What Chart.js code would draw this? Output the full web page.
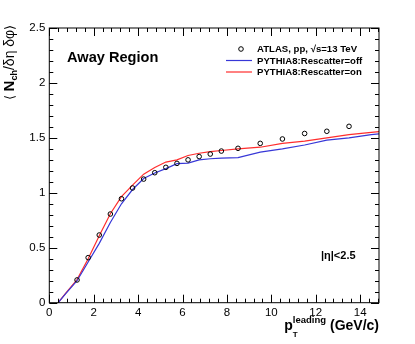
<!DOCTYPE html>
<html>
<head>
<meta charset="utf-8">
<script src="https://cdn.jsdelivr.net/npm/chart.js@4.4.0/dist/chart.umd.min.js"></script>
<style>
  html, body { margin: 0; padding: 0; background: #fff; }
  canvas { display: block; }
</style>
</head>
<body>
<canvas id="grafico" width="415" height="344"></canvas>
<script>
// dados ATLAS (marcadores abertos)
const atlasX = [1.25, 1.75, 2.25, 2.75, 3.25, 3.75, 4.25, 4.75, 5.25, 5.75, 6.25, 6.75, 7.25, 7.75, 8.5, 9.5, 10.5, 11.5, 12.5, 13.5];
const atlasY = [0.207, 0.41, 0.616, 0.807, 0.946, 1.044, 1.125, 1.183, 1.232, 1.268, 1.30, 1.33, 1.353, 1.38, 1.405, 1.45, 1.49, 1.54, 1.56, 1.605];

// curvas PYTHIA8
const pythiaX = [0.4, 0.75, 1.25, 1.75, 2.25, 2.75, 3.25, 3.75, 4.25, 4.75, 5.25, 5.75, 6.25, 6.75, 7.25, 7.75, 8.5, 9.5, 10.5, 11.5, 12.5, 13.5, 14.5, 15];
const rescatterOff = [0, 0.085, 0.20, 0.37, 0.54, 0.73, 0.90, 1.03, 1.13, 1.18, 1.22, 1.265, 1.27, 1.30, 1.31, 1.315, 1.32, 1.37, 1.40, 1.435, 1.48, 1.50, 1.53, 1.54];
const rescatterOn = [0, 0.09, 0.21, 0.40, 0.61, 0.81, 0.965, 1.07, 1.17, 1.23, 1.28, 1.30, 1.34, 1.36, 1.375, 1.385, 1.40, 1.415, 1.45, 1.47, 1.50, 1.53, 1.55, 1.56];

const xTickLabels = ['0', '2', '4', '6', '8', '10', '12', '14'];
const yTickLabels = ['0', '0.5', '1', '1.5', '2', '2.5'];

const seriesNames = ['ATLAS, pp, \u221As=13 TeV', 'PYTHIA8:Rescatter=off', 'PYTHIA8:Rescatter=on'];
const corAzul = 'rgb(55,55,215)';
const corVermelha = 'rgb(255,45,45)';

const FONTE = '"Liberation Sans", Arial, Helvetica, sans-serif';

const toPoints = (xs, ys) => xs.map((x, i) => ({ x: x, y: ys[i] }));

const rootStyle = {
    id: 'rootStyle',
    afterDraw(chart) {
        const ctx = chart.ctx;
        const xs = chart.scales.x;
        const ys = chart.scales.y;
        const a = chart.chartArea;

        ctx.save();
        ctx.strokeStyle = '#000';
        ctx.lineWidth = 1;
        ctx.strokeRect(a.left, a.top, a.right - a.left, a.bottom - a.top);

        // ticks para dentro, nos quatro lados
        ctx.beginPath();
        for (let i = 0; i * 0.4 <= xs.max + 1e-9; i++) {
            const px = Math.round(xs.getPixelForValue(i * 0.4)) + 0.5;
            const len = (i % 5 === 0) ? 8 : 4;
            ctx.moveTo(px, a.bottom); ctx.lineTo(px, a.bottom - len);
            ctx.moveTo(px, a.top); ctx.lineTo(px, a.top + len);
        }
        for (let i = 0; i * 0.1 <= ys.max + 1e-9; i++) {
            const py = Math.round(ys.getPixelForValue(i * 0.1)) + 0.5;
            const len = (i % 5 === 0) ? 8 : 4;
            ctx.moveTo(a.left, py); ctx.lineTo(a.left + len, py);
            ctx.moveTo(a.right, py); ctx.lineTo(a.right - len, py);
        }
        ctx.stroke();

        ctx.fillStyle = '#000';
        ctx.textBaseline = 'alphabetic';

        // "Away Region"
        ctx.font = 'bold 14.6px ' + FONTE;
        ctx.textAlign = 'left';
        ctx.fillText('Away Region', 67, 62);

        // |eta|<2.5
        ctx.font = 'bold 11px ' + FONTE;
        ctx.fillText('|\u03B7|<2.5', 321, 259);

        // legenda
        const lx = 241, ly = [49, 60.5, 72];
        ctx.beginPath();
        ctx.arc(lx, ly[0], 2.3, 0, Math.PI * 2);
        ctx.stroke();
        ctx.lineWidth = 1.2;
        ctx.strokeStyle = corAzul;
        ctx.beginPath(); ctx.moveTo(226, ly[1]); ctx.lineTo(252, ly[1]); ctx.stroke();
        ctx.strokeStyle = corVermelha;
        ctx.beginPath(); ctx.moveTo(226, ly[2]); ctx.lineTo(252, ly[2]); ctx.stroke();
        ctx.font = 'bold 9.6px ' + FONTE;
        seriesNames.forEach((nome, i) => ctx.fillText(nome, 257, ly[i] + 3.4));

        // titulo eixo x: p_T^leading (GeV/c), alinhado a direita
        ctx.font = 'bold 14px ' + FONTE;
        const gev = ' (GeV/c)';
        const wGev = ctx.measureText(gev).width;
        const wP = ctx.measureText('p').width;
        ctx.font = 'bold 9.5px ' + FONTE;
        const wLead = ctx.measureText('leading').width;
        const x0 = a.right - wGev - wLead - wP;
        ctx.font = 'bold 14px ' + FONTE;
        ctx.fillText('p', x0, 330);
        ctx.fillText(gev, x0 + wP + wLead, 330);
        ctx.font = 'bold 9.5px ' + FONTE;
        ctx.fillText('leading', x0 + wP, 323);
        ctx.font = 'bold 8px ' + FONTE;
        ctx.fillText('T', x0 + wP, 337);

        // titulo eixo y
        ctx.translate(13.5, 100);
        ctx.rotate(-Math.PI / 2);
        let t = 0;
        const parte = (txt, font, dy) => {
            ctx.font = font;
            ctx.fillText(txt, t, dy);
            t += ctx.measureText(txt).width;
        };
        parte('\u27E8 ', '13px ' + FONTE, 0);
        parte('N', 'bold 15px ' + FONTE, 0);
        parte('ch', 'bold 9px ' + FONTE, 3.5);
        parte('/\u03B4\u03B7 \u03B4\u03C6', '14px ' + FONTE, 0);
        parte('\u27E9', '13px ' + FONTE, 0);

        ctx.restore();
    }
};

new Chart(document.getElementById('grafico').getContext('2d'), {
    type: 'line',
    data: {
        datasets: [
            { label: seriesNames[0], data: toPoints(atlasX, atlasY), showLine: false, pointStyle: 'circle', pointRadius: 2.3, pointBorderWidth: 1, pointBorderColor: '#000', pointBackgroundColor: 'rgba(0,0,0,0)', borderColor: '#000' },
            { label: seriesNames[1], data: toPoints(pythiaX, rescatterOff), borderColor: corAzul, borderWidth: 1.2, pointRadius: 0, tension: 0, fill: false },
            { label: seriesNames[2], data: toPoints(pythiaX, rescatterOn), borderColor: corVermelha, borderWidth: 1.2, pointRadius: 0, tension: 0, fill: false }
        ]
    },
    options: {
        responsive: false,
        animation: false,
        events: [],
        layout: { padding: { left: 0, right: 36, top: 28, bottom: 0 } },
        plugins: { legend: { display: false }, tooltip: { enabled: false } },
        scales: {
            x: {
                type: 'linear', min: 0, max: 14.85,
                grid: { display: false, drawTicks: false, tickLength: 0 }, border: { display: false },
                ticks: { stepSize: 2, includeBounds: false, padding: 3, maxRotation: 0, color: '#000', font: { family: FONTE, size: 11.5 },
                         callback: v => xTickLabels[Math.round(v / 2)] },
                afterFit: s => { s.height = 41.3; }
            },
            y: {
                min: 0, max: 2.5,
                grid: { display: false, drawTicks: false, tickLength: 0 }, border: { display: false },
                ticks: { stepSize: 0.5, padding: 4, color: '#000', font: { family: FONTE, size: 11.5 },
                         callback: v => yTickLabels[Math.round(v / 0.5)] },
                afterFit: s => { s.width = 49.3; }
            }
        }
    },
    plugins: [rootStyle]
});
</script>
</body>
</html>
